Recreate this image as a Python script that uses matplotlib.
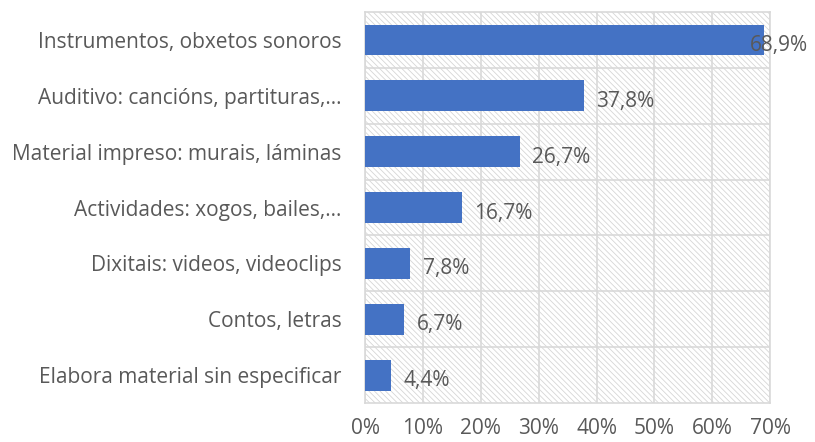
import matplotlib.pyplot as plt
from matplotlib.patches import Rectangle
from matplotlib.ticker import FuncFormatter, MultipleLocator

categorias = [
    "Instrumentos, obxetos sonoros",
    "Auditivo: cancións, partituras,…",
    "Material impreso: murais, láminas",
    "Actividades: xogos, bailes,…",
    "Dixitais: videos, videoclips",
    "Contos, letras",
    "Elabora material sin especificar",
]
porcentaxes = [68.9, 37.8, 26.7, 16.7, 7.8, 6.7, 4.4]

gris = "#d9d9d9"
texto = "#595959"
azul = "#4472c4"

plt.rcParams["font.family"] = ["Open Sans", "DejaVu Sans"]
plt.rcParams["hatch.linewidth"] = 0.6
plt.rcParams["hatch.color"] = "#d6d6d6"

fig = plt.figure(figsize=(8.15, 4.42), dpi=100)
ax = fig.add_axes([0.448, 0.088, 0.497, 0.885])

# fondo rayado da área do gráfico
ax.add_patch(Rectangle((0, 0), 1, 1, transform=ax.transAxes, facecolor="white",
                       edgecolor="#d6d6d6", hatch="\\\\\\\\\\\\", linewidth=0, zorder=0))

pos = range(len(categorias))
ax.barh(pos, porcentaxes, height=0.55, color=azul, zorder=3)

ax.set_xlim(0, 70)
ax.set_ylim(len(categorias) - 0.5, -0.5)
ax.xaxis.set_major_locator(MultipleLocator(10))
ax.xaxis.set_major_formatter(FuncFormatter(lambda v, p: f"{v:.0f}%"))
ax.set_yticks(list(pos))
ax.set_yticklabels(categorias)
ax.set_yticks([i + 0.5 for i in range(len(categorias) - 1)], minor=True)

ax.grid(axis="x", which="major", color=gris, linewidth=1.2, zorder=1)
ax.grid(axis="y", which="minor", color=gris, linewidth=1.2, zorder=1)
ax.set_axisbelow(True)
for s in ax.spines.values():
    s.set_color(gris)
    s.set_linewidth(1.2)

ax.tick_params(axis="both", which="both", length=0, colors=texto, labelsize=15)
ax.tick_params(axis="y", pad=17)
ax.tick_params(axis="x", pad=11)

for i, v in enumerate(porcentaxes):
    etiqueta = f"{v:.1f}%".replace(".", ",")
    desprazamento = -10 if v > 65 else 9
    ax.annotate(etiqueta, (v, i), xytext=(desprazamento, -4), textcoords="offset points",
                va="center", ha="left", color=texto, fontsize=15, zorder=4)

fig.savefig("out.png", dpi=100)
